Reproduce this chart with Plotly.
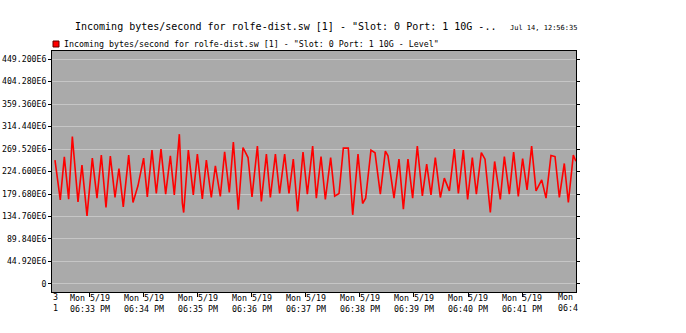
import pandas as pd
import plotly.graph_objects as go

# ---------------- data ----------------
base_time = "2008-05-19 18:32:00"
sample_seconds = [
    21.1, 27.0, 31.5, 36.3, 40.4, 46.7, 51.1, 56.7, 62.6, 67.8, 72.6, 77.8, 82.6, 87.8,
    92.2, 97.0, 103.0, 107.8, 113.3, 119.6, 123.7, 128.9, 133.7, 138.9, 144.1, 149.3,
    153.7, 159.3, 162.6, 164.1, 169.3, 174.8, 179.3, 184.8, 189.3, 194.8, 199.3, 204.8,
    209.6, 214.8, 219.3, 224.8, 230.0, 235.6, 240.0, 246.0, 250.4, 256.0, 260.4, 266.0,
    270.7, 276.3, 281.1, 285.9, 290.7, 296.7, 301.5, 307.4, 311.5, 316.7, 321.5, 327.4,
    331.9, 336.7, 341.5, 347.0, 351.9, 357.8, 362.9, 366.3, 372.2, 376.7, 382.6, 388.2,
    391.1, 397.8, 403.3, 408.2, 413.3, 418.5, 423.7, 429.3, 434.1, 438.9, 443.7, 449.3,
    453.7, 459.3, 464.8, 469.3, 474.8, 479.6, 484.8, 489.3, 494.8, 498.9, 504.8, 509.6,
    515.9, 520.4, 525.9, 530.7, 535.9, 540.7, 545.6, 550.7, 555.6, 561.9, 566.7, 572.2,
    576.7, 581.5, 587.0, 591.5, 597.0, 599.9,
]
incoming_e6 = [
    247.2, 168.0, 253.9, 169.4, 294.5, 164.0, 237.2, 136.1, 251.2, 171.4, 257.2, 152.7, 255.2, 172.7,
    230.6, 154.0, 257.2, 162.7, 196.0, 251.2, 174.0, 267.2, 180.7, 269.2, 179.3, 255.9,
    178.0, 299.1, 162.0, 142.7, 267.2, 178.0, 259.2, 170.0, 247.2, 172.7, 235.9, 174.7,
    263.9, 182.7, 283.2, 148.1, 272.5, 252.5, 174.0, 275.2, 164.7, 259.2, 172.7, 259.2,
    180.7, 259.2, 180.7, 249.2, 144.7, 263.2, 179.3, 275.2, 171.4, 254.5, 168.7, 252.5,
    175.4, 180.7, 271.2, 271.2, 138.1, 259.2, 160.7, 171.4, 267.2, 261.9, 179.3, 265.2,
    255.9, 171.4, 249.2, 149.4, 249.2, 171.4, 275.2, 176.0, 239.2, 178.0, 252.5, 172.7,
    211.3, 186.0, 269.2, 180.7, 267.2, 168.7, 252.5, 179.3, 262.5, 249.2, 142.7, 244.6,
    168.7, 254.5, 179.3, 263.2, 174.7, 250.5, 188.0, 275.2, 186.0, 208.0, 171.4, 256.5,
    254.5, 172.7, 240.6, 162.7, 257.2, 245.0,
]
ytick_e6 = [0, 44.92, 89.84, 134.76, 179.68, 224.60, 269.52, 314.44, 359.36, 404.28, 449.20]
ytick_text = ["0", "44.920E6", "89.840E6", "134.760E6", "179.680E6", "224.600E6",
              "269.520E6", "314.440E6", "359.360E6", "404.280E6", "449.200E6"]
xtick_times = ["18:33", "18:34", "18:35", "18:36", "18:37", "18:38", "18:39", "18:40", "18:41"]
xtick_text = ["Mon 5/19<br>06:33 PM", "Mon 5/19<br>06:34 PM", "Mon 5/19<br>06:35 PM",
              "Mon 5/19<br>06:36 PM", "Mon 5/19<br>06:37 PM", "Mon 5/19<br>06:38 PM",
              "Mon 5/19<br>06:39 PM", "Mon 5/19<br>06:40 PM", "Mon 5/19<br>06:41 PM"]
title_text = 'Incoming bytes/second for rolfe-dist.sw [1] - "Slot: 0 Port: 1 10G -..'
date_text = "Jul 14, 12:56:35"
legend_text = 'Incoming bytes/second for rolfe-dist.sw [1] - "Slot: 0 Port: 1 10G - Level"'

# ---------------- build ----------------
base = pd.Timestamp(base_time)
times = base + pd.to_timedelta(sample_seconds, unit="s")
values = [v * 1e6 for v in incoming_e6]
tickvals_x = [pd.Timestamp("2008-05-19 " + t) for t in xtick_times]
tickvals_y = [v * 1e6 for v in ytick_e6]

MONO = "DejaVu Sans Mono"
W, H = 686, 333
L, R, T, B = 52, 576, 51, 292
pw, ph = R - L, B - T


def px(x):
    return (x - L) / pw


def py(y):
    return (B - y) / ph


fig = go.Figure()
fig.add_trace(go.Scatter(
    x=times, y=values, mode="lines",
    line=dict(color="#ff0000", width=1.6),
    showlegend=False, hoverinfo="skip",
))

fig.update_layout(
    width=W, height=H,
    margin=dict(l=L, r=W - R, t=T, b=H - B, pad=0),
    paper_bgcolor="white",
    plot_bgcolor="#aaaaaa",
    font=dict(family=MONO, size=8.3, color="black"),
    showlegend=False,
)
fig.update_xaxes(
    automargin=False,
    range=[base + pd.Timedelta(seconds=17.8), base + pd.Timedelta(seconds=600)],
    tickvals=tickvals_x, ticktext=xtick_text,
    ticks="outside", ticklen=4, tickcolor="black", tickwidth=1,
    ticklabelstandoff=-6,
    showgrid=False, zeroline=False,
    showline=True, linecolor="black", linewidth=1, mirror=True,
    tickfont=dict(family=MONO, size=8.3, color="black"),
    tickangle=0,
)
fig.update_yaxes(
    automargin=False,
    range=[-16.0e6, 465.2e6],
    tickvals=tickvals_y, ticktext=ytick_text,
    ticks="outside", ticklen=3, tickcolor="black", tickwidth=1,
    showgrid=True, gridcolor="#c6c6c6", gridwidth=1,
    zeroline=False,
    showline=True, linecolor="black", linewidth=1, mirror="ticks",
    tickfont=dict(family=MONO, size=8.2, color="black"),
)

annotations = [
    dict(text=title_text, x=px(73), y=py(27), xanchor="left", yanchor="middle",
         font=dict(family=MONO, size=10, color="black")),
    dict(text=date_text, x=px(508), y=py(28), xanchor="left", yanchor="middle",
         font=dict(family=MONO, size=7, color="black")),
    dict(text=legend_text, x=px(62), y=py(44), xanchor="left", yanchor="middle",
         font=dict(family=MONO, size=8.3, color="black")),
    dict(text="Mon", x=px(556), y=py(297), xanchor="left", yanchor="middle",
         font=dict(family=MONO, size=8.3, color="black")),
    dict(text="06:4", x=px(556), y=py(308), xanchor="left", yanchor="middle",
         font=dict(family=MONO, size=8.3, color="black")),
    dict(text="3", x=px(51), y=py(297), xanchor="left", yanchor="middle",
         font=dict(family=MONO, size=8.3, color="black")),
    dict(text="1", x=px(51), y=py(308), xanchor="left", yanchor="middle",
         font=dict(family=MONO, size=8.3, color="black")),
]
for a in annotations:
    a.update(xref="paper", yref="paper", showarrow=False)
fig.update_layout(annotations=annotations)

fig.add_shape(type="rect", xref="paper", yref="paper",
              x0=px(53), x1=px(59), y0=py(47), y1=py(41),
              fillcolor="#ff0000", line=dict(color="#600000", width=1))

fig.write_html(
    "out.html",
    config={"displayModeBar": False},
    post_script="document.body.style.margin='0';document.body.style.overflow='hidden';",
)
